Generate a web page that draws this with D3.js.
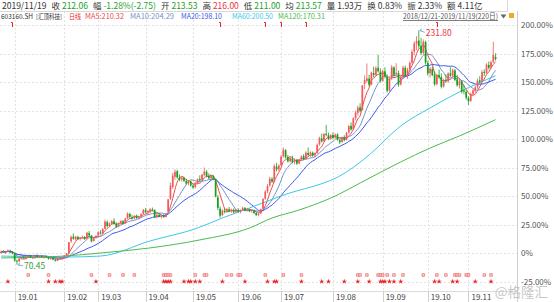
<!DOCTYPE html>
<html>
<head>
<meta charset="utf-8">
<script src="https://cdn.jsdelivr.net/npm/d3@7"></script>
<style>
body{margin:0;background:#fff;}
svg{display:block;font-family:"Noto Sans CJK SC","Noto Sans",sans-serif;}
</style>
</head>
<body>
<svg id="chart" width="554" height="302"></svg>
<script>
// daily candles 2018/12/21 - 2019/11/19, [open, high, low, close]
var candles = [
[78.5,80.2,78.0,79.6],[79.4,80.5,78.6,78.9],[78.6,80.0,77.8,79.5],[79.6,81.0,79.0,80.3],[80.2,80.8,78.5,78.8],[78.9,79.8,77.6,78.2],
[78.0,78.3,72.5,73.4],[73.2,74.0,70.45,72.6],[72.8,75.2,72.0,74.6],[74.8,76.0,74.0,75.4],[75.6,76.5,74.6,75.0],[75.0,76.2,74.2,75.9],
[76.0,77.0,75.2,76.4],[76.5,77.2,75.0,75.3],[75.2,76.0,74.3,75.6],[75.8,77.4,75.4,76.9],[76.8,77.5,75.6,75.9],[75.9,76.8,75.0,76.3],
[76.2,77.0,75.3,75.6],[75.5,76.4,74.6,75.9],[76.0,76.8,75.1,75.4],[75.3,75.8,74.0,74.4],[74.5,75.6,73.8,75.1],[75.0,75.5,73.6,73.9],
[73.8,74.6,72.6,73.1],[73.2,74.8,72.9,74.3],[74.4,75.4,73.8,74.9],[74.8,75.8,74.2,75.5],
[75.6,77.2,75.2,76.8],[76.9,78.5,76.4,78.2],[78.4,86.0,78.0,86.0],[86.5,90.5,85.6,89.6],[89.8,92.0,87.6,88.2],[88.0,90.2,87.2,89.8],
[89.6,90.4,87.5,88.0],[88.2,89.6,87.0,88.9],[89.0,90.6,88.2,89.5],[89.5,90.2,87.6,88.0],[88.4,93.0,88.0,92.4],[92.2,93.6,90.0,90.6],
[90.4,91.0,85.8,86.5],[86.8,89.5,86.2,88.9],[89.0,90.8,88.2,90.2],
[90.5,93.5,90.0,92.8],[92.6,94.2,91.2,91.8],[92.0,95.6,91.6,95.0],[95.2,101.5,95.0,100.2],[99.8,101.0,96.2,97.0],[97.2,99.6,96.4,98.8],
[98.6,101.2,97.8,100.5],[100.4,102.4,98.0,98.6],[98.5,99.8,95.8,96.6],[96.8,99.5,96.2,99.0],[99.2,101.0,98.4,100.6],[100.4,101.2,98.2,98.9],
[99.0,102.8,98.6,102.2],[102.4,106.5,101.8,105.6],[105.4,106.2,102.6,103.4],[103.2,104.8,101.5,102.2],[102.4,104.6,101.8,104.0],
[104.2,105.0,102.0,102.6],[102.8,104.2,101.6,103.8],[104.0,106.0,103.2,105.2],[105.4,108.8,105.0,108.2],
[108.0,109.6,105.8,106.6],[106.8,108.0,104.6,107.4],[107.2,109.4,106.0,108.6],[108.4,109.8,107.2,108.0],[108.0,108.6,102.6,103.2],
[103.4,105.6,102.4,104.8],[104.8,106.0,103.0,103.6],[103.6,104.8,102.2,104.2],[104.0,105.2,102.8,103.2],[103.4,106.0,103.0,105.0],
[107.0,115.5,106.8,115.5],[116.0,127.0,115.0,124.8],[124.0,133.6,122.6,131.8],[131.0,136.2,128.8,134.4],[134.8,135.8,129.6,130.6],
[130.4,132.6,128.0,129.0],[129.2,131.4,127.6,130.4],[130.2,131.0,127.4,128.2],[128.0,129.6,125.6,126.4],[126.6,128.8,125.0,127.8],
[127.6,128.4,124.2,125.0],
[124.8,126.0,122.8,123.6],[123.8,127.4,123.0,126.8],[126.6,129.8,125.8,129.2],[129.4,132.0,127.6,128.4],[128.6,133.0,128.2,132.4],
[132.2,137.4,131.2,134.6],[134.4,135.6,130.6,131.4],[131.6,133.4,129.4,130.0],[130.2,132.6,129.0,131.8],[131.6,132.2,128.6,129.6],
[129.4,129.8,116.8,117.4],[116.8,118.4,108.0,109.6],[109.0,110.6,102.8,104.2],[104.6,108.6,103.8,107.8],[107.6,109.6,105.8,106.6],
[106.8,109.4,106.0,108.8],[108.6,110.2,106.8,107.4],[107.4,109.0,106.2,108.4],[108.2,109.2,105.8,106.6],[106.8,108.8,106.0,108.2],
[108.0,109.4,106.4,107.0],[107.2,108.6,105.8,108.0],[108.2,110.4,107.4,109.6],[109.4,110.2,107.2,107.8],[107.8,109.6,107.0,108.8],
[108.6,109.2,106.6,107.2],[107.4,108.6,106.2,108.0],[107.8,108.4,105.4,106.0],[106.0,106.8,104.0,104.6],[104.8,106.2,103.8,105.6],
[105.8,109.0,105.2,108.6],[109.0,116.4,108.6,115.6],[116.0,121.8,115.2,120.8],[121.0,126.0,119.6,124.6],[125.0,131.0,124.2,129.6],
[129.4,130.8,126.8,127.6],[127.6,139.8,127.0,138.4],[138.0,140.6,134.6,136.0],[136.2,139.4,135.0,138.8],
[139.0,146.0,138.2,144.8],[145.2,151.2,144.0,149.6],[149.2,150.0,143.6,144.4],[144.6,146.0,140.8,141.6],[141.8,144.6,140.6,143.8],
[143.6,145.4,140.2,141.0],[141.2,143.6,139.4,142.8],[142.6,143.4,139.2,140.0],[140.2,143.2,139.6,142.6],[142.8,145.8,142.0,145.0],
[145.2,146.6,142.4,143.2],[143.4,148.6,142.8,147.6],[147.4,151.2,145.2,146.0],[146.2,148.6,144.6,147.8],[147.6,148.4,144.8,145.6],
[145.8,147.8,144.4,147.2],[147.4,153.8,146.8,153.0],[153.4,158.6,152.4,157.6],[157.4,160.6,154.6,155.4],[155.6,161.2,155.0,160.4],
[160.6,166.8,158.8,159.8],[159.6,161.4,156.2,157.0],[157.2,160.4,156.4,159.6],
[159.8,161.6,157.0,157.8],[158.0,160.8,157.2,160.0],[160.2,161.0,155.8,156.4],[156.2,157.4,153.6,154.8],[155.0,158.6,154.4,158.0],
[158.2,159.6,155.4,156.2],[156.4,162.0,156.0,161.2],[161.4,166.8,160.6,165.8],[166.0,168.4,162.8,163.6],[163.8,172.0,163.2,171.2],
[171.4,176.6,169.8,175.2],[175.0,180.0,173.2,178.6],[178.8,181.6,175.4,176.4],[177.0,194.0,176.6,194.0],[195.0,200.8,191.4,197.6],
[197.0,209.0,195.6,198.8],[198.6,201.2,193.2,194.4],[194.6,203.4,194.0,202.6],[202.4,206.8,199.6,201.0],[201.2,207.2,200.4,205.8],
[206.0,215.0,202.8,203.6],[203.4,205.6,196.0,197.0],
[197.2,204.6,196.4,203.8],[203.6,206.4,198.8,200.0],[199.8,201.6,189.0,190.2],[190.4,199.6,189.6,198.4],[198.6,208.0,197.6,206.4],
[206.2,207.2,199.8,201.2],[201.6,209.2,200.8,202.6],[202.4,204.0,193.0,194.4],[194.6,200.8,193.8,199.6],[199.4,207.4,198.8,206.2],
[206.0,207.6,199.6,200.8],[201.0,206.0,198.4,204.6],[204.8,210.6,203.2,209.4],[209.6,218.6,208.4,217.0],[217.2,224.2,214.6,222.8],
[222.6,227.8,218.2,224.6],[224.8,231.8,219.4,221.0],[221.2,226.6,214.8,216.2],[216.4,225.6,215.0,224.0],[223.8,224.8,208.2,209.6],
[209.4,211.0,200.6,202.2],[202.4,206.6,199.4,205.4],[205.2,207.0,200.2,201.0],[201.2,203.4,193.6,194.6],[194.8,201.8,194.0,200.8],
[201.0,204.8,198.4,199.4],[199.6,202.2,191.8,193.0],[193.2,198.6,192.4,197.6],[197.4,201.6,195.6,196.6],[196.8,203.0,195.8,202.0],
[202.2,206.4,199.8,200.6],[200.8,205.6,199.6,204.4],[204.2,205.2,196.8,197.8],[198.0,201.2,193.0,194.0],[194.2,198.2,191.8,196.8],
[196.6,197.4,188.4,189.6],[190.4,194.2,187.8,189.6],[189.4,190.6,184.0,185.4],
[185.2,186.4,180.4,183.0],[183.2,189.0,182.6,188.0],[188.2,191.6,186.4,190.4],[190.2,194.0,188.4,192.6],[192.8,198.6,191.6,197.2],
[197.4,200.2,195.0,196.4],[196.6,204.4,196.0,203.0],[203.2,205.0,200.4,202.4],[202.6,209.2,201.8,208.2],[208.0,210.4,204.8,206.0],
[206.2,211.0,205.4,210.0],[210.2,224.0,209.4,214.81],[213.53,216.00,211.00,212.06]
];

var basePrice = 78.5;

// long averages: [day index, value]
var ma60Pts = [[0,76.4],[28,75.7],[44,76.4],[66,86.8],[87,95.7],[98,102.6],[110,109.5],[124,117.8],
  [153,134.3],[163,146.0],[177,166.0],[190,178.4],[203,189.4],[219,200.5]];
var ma120Pts = [[0,75.1],[28,76.4],[44,78.5],[66,82.0],[88,87.5],[110,95.7],[120,102.6],[132,108.1],
  [149,118.5],[159,126.7],[177,141.2],[190,150.8],[203,159.1],[219,170.31]];

var monthLabels = ["19.01","19.02","19.03","19.04","19.05","19.06","19.07","19.08","19.09","19.10","19.11"];
var monthStart = [6,28,43,64,85,105,124,147,169,189,207];
var yTicks = [-25,0,25,50,75,100,125,150,175,200];

var flagDays = [12,21,40,48,54,59,72,73,74,75,86,90,91,100,102,105,106,117,125,133,158,159,162,167,168,169,171,174,178,187,193,197,201,202,203,206,207,214,217];
var starDays = [3,21,24,26,27,42,72,73,74,75,81,83,84,86,88,98,108,118,121,122,133,142,145,152,158,163,168,169,170,172,174,177,192,194,200,202,210,217];
var noteDays = [5,97,117,124,135,193];

var headerItems = [
  {label:"收", value:"212.06", color:"#1e9e2e"},
  {label:"幅", value:"-1.28%(-2.75)", color:"#1e9e2e"},
  {label:"开", value:"213.53", color:"#1e9e2e"},
  {label:"高", value:"216.00", color:"#e8363a"},
  {label:"低", value:"211.00", color:"#1e9e2e"},
  {label:"均", value:"213.57", color:"#1e9e2e"},
  {label:"量", value:"1.93万", color:"#333"},
  {label:"换", value:"0.83%", color:"#333"},
  {label:"振", value:"2.33%", color:"#333"},
  {label:"额", value:"4.11亿", color:"#333"}
];
// second header row: text, colour, left x, width, font size
var legendItems = [
  ["603160.SH", "#333", 1, 32, 7],
  ["[汇顶科技]", "#333", 36, 26, 6.4],
  ["日线", "#e8262a", 69, 12, 7],
  ["MA5:210.32", "#ee4b4b", 85, 39, 7.2],
  ["MA10:204.29", "#7592c8", 130, 44, 7.2],
  ["MA20:198.10", "#3b57ee", 181, 41, 7.2],
  ["MA60:200.50", "#3cc8e8", 232, 41, 7.2],
  ["MA120:170.31", "#4cbc4c", 278, 47, 7.2]
];
var maColors = ["#ee4b4b","#7592c8","#3b57ee","#3cc8e8","#4cbc4c"];

var svg = d3.select("#chart");
var plotW = 517;

var x = d3.scaleLinear().domain([-0.5, 228.5]).range([0, plotW]);
var y = d3.scaleLinear().domain([-25, 200]).range([281.5, 25]);
function pct(p){ return (p / basePrice - 1) * 100; }

// grid
svg.append("g").selectAll("line")
  .data(yTicks).enter().append("line")
  .attr("x1", 0).attr("x2", plotW)
  .attr("y1", function(d){ return Math.round(y(d)) + 0.5; })
  .attr("y2", function(d){ return Math.round(y(d)) + 0.5; })
  .attr("stroke", "#e2e2e2").attr("stroke-dasharray", "2,2");

svg.append("g").selectAll("line")
  .data(monthStart).enter().append("line")
  .attr("x1", function(d){ return Math.round(x(d)) + 0.5; })
  .attr("x2", function(d){ return Math.round(x(d)) + 0.5; })
  .attr("y1", 12).attr("y2", 291)
  .attr("stroke", "#e2e2e2").attr("stroke-dasharray", "2,2");

// frame lines
svg.append("line").attr("x1", 0).attr("x2", 507).attr("y1", 11.5).attr("y2", 11.5).attr("stroke", "#d8d8d8");
svg.append("line").attr("x1", 507.5).attr("x2", 507.5).attr("y1", 0).attr("y2", 11.5).attr("stroke", "#d8d8d8");
svg.append("line").attr("x1", plotW + 0.5).attr("x2", plotW + 0.5).attr("y1", 11).attr("y2", 302).attr("stroke", "#cfcfcf");
svg.append("line").attr("x1", 0).attr("x2", plotW).attr("y1", 291.5).attr("y2", 291.5).attr("stroke", "#dcdcdc");

// right axis
svg.append("g").selectAll("text")
  .data(yTicks).enter().append("text")
  .attr("x", plotW + 4)
  .attr("y", function(d){ return y(d) + 3; })
  .attr("font-size", "8px")
  .attr("fill", "#555")
  .text(function(d){ return d === 0 ? "0%" : d.toFixed(2) + "%"; });

// bottom axis
var xAxis = svg.append("g");
xAxis.selectAll("line")
  .data(monthStart).enter().append("line")
  .attr("x1", function(d){ return Math.round(x(d)) + 0.5; })
  .attr("x2", function(d){ return Math.round(x(d)) + 0.5; })
  .attr("y1", 291).attr("y2", 302)
  .attr("stroke", "#cfcfcf");
xAxis.selectAll("text")
  .data(monthStart).enter().append("text")
  .attr("x", function(d){ return x(d) + 3; })
  .attr("y", 299.5)
  .attr("font-size", "8px")
  .attr("fill", "#444")
  .text(function(d, i){ return monthLabels[i]; });

// moving averages: short ones from the closes, long ones as read
function movingAvg(n){
  return candles.map(function(d, i){
    var s = candles.slice(Math.max(0, i - n + 1), i + 1);
    return [i, d3.mean(s, function(c){ return c[3]; })];
  });
}
var maSeries = [movingAvg(5), movingAvg(10), movingAvg(20), ma60Pts, ma120Pts];

var line = d3.line()
  .x(function(d){ return x(d[0]); })
  .y(function(d){ return y(pct(d[1])); })
  .curve(d3.curveMonotoneX);

svg.append("g").selectAll("path")
  .data(maSeries).enter().append("path")
  .attr("d", line)
  .attr("fill", "none")
  .attr("stroke", function(d, i){ return maColors[i]; })
  .attr("stroke-width", 1);

// candles
var up = "#f25a5a", down = "#16a01c";
var cg = svg.append("g");
cg.selectAll("line")
  .data(candles).enter().append("line")
  .attr("x1", function(d, i){ return x(i); })
  .attr("x2", function(d, i){ return x(i); })
  .attr("y1", function(d){ return y(pct(d[1])); })
  .attr("y2", function(d){ return y(pct(d[2])); })
  .attr("stroke", function(d){ return d[3] >= d[0] ? up : down; })
  .attr("stroke-width", 0.8);
cg.selectAll("rect")
  .data(candles).enter().append("rect")
  .attr("x", function(d, i){ return x(i) - 0.85; })
  .attr("width", 1.7)
  .attr("y", function(d){ return y(pct(Math.max(d[0], d[3]))); })
  .attr("height", function(d){ return Math.max(0.8, Math.abs(y(pct(d[0])) - y(pct(d[3])))); })
  .attr("fill", function(d){ return d[3] >= d[0] ? up : down; });

// high / low notes
var hiIdx = d3.maxIndex(candles, function(d){ return d[1]; });
var loIdx = d3.minIndex(candles, function(d){ return d[2]; });
var hx = x(hiIdx), hy = y(pct(candles[hiIdx][1]));
var lx = x(loIdx), ly = y(pct(candles[loIdx][2]));
svg.append("path")
  .attr("d", "M" + (hx + 1) + "," + hy + "L" + (hx + 6) + "," + (hy + 2) + "M" + (hx + 1) + "," + hy + "l2,-1.5M" + (hx + 1) + "," + hy + "l2.5,1")
  .attr("stroke", "#86b6dc").attr("fill", "none");
svg.append("text").attr("x", hx + 7).attr("y", hy + 6)
  .attr("font-size", "8.5px").attr("fill", "#e8363a")
  .text(candles[hiIdx][1].toFixed(2));
svg.append("path")
  .attr("d", "M" + (lx + 1) + "," + ly + "L" + (lx + 6) + "," + (ly + 1) + "M" + (lx + 1) + "," + ly + "l2,-1.5M" + (lx + 1) + "," + ly + "l2.5,1.2")
  .attr("stroke", "#86b6dc").attr("fill", "none");
svg.append("text").attr("x", lx + 7).attr("y", ly + 4)
  .attr("font-size", "8.5px").attr("fill", "#3a9e3a")
  .text(candles[loIdx][2].toFixed(2));

// event markers
svg.append("g").selectAll("path")
  .data(flagDays).enter().append("path")
  .attr("transform", function(d){ return "translate(" + x(d) + ",275)"; })
  .attr("d", d3.symbol().type(d3.symbolSquare).size(7))
  .attr("fill", "#fbd0d0").attr("stroke", "#ee5555").attr("stroke-width", 0.6);
svg.append("g").selectAll("path")
  .data(starDays).enter().append("path")
  .attr("transform", function(d){ return "translate(" + x(d) + ",281.5)"; })
  .attr("d", d3.symbol().type(d3.symbolStar).size(9))
  .attr("fill", "#e8262a");
svg.append("g").selectAll("path")
  .data(noteDays).enter().append("path")
  .attr("d", function(d){ var px = Math.round(x(d)) + 0.5; return "M" + (px - 1.5) + ",22.5H" + px + "V27"; })
  .attr("stroke", "#e8262a").attr("fill", "none");

// header row 1
var h1 = svg.append("text").attr("x", 2).attr("y", 8.5).attr("font-size", "8.5px");
h1.append("tspan").attr("fill", "#333").text("2019/11/19");
headerItems.forEach(function(d){
  h1.append("tspan").attr("dx", 5).attr("fill", "#333").text(d.label);
  h1.append("tspan").attr("dx", 2).attr("fill", d.color).text(d.value);
});

// header row 2
svg.append("g").selectAll("text")
  .data(legendItems).enter().append("text")
  .attr("x", function(d){ return d[2]; })
  .attr("y", 19)
  .attr("font-size", function(d){ return d[4] + "px"; })
  .attr("textLength", function(d){ return d[3]; })
  .attr("lengthAdjust", "spacingAndGlyphs")
  .attr("fill", function(d){ return d[1]; })
  .text(function(d){ return d[0]; });

svg.append("text").attr("x", 403).attr("y", 19)
  .attr("font-size", "7.5px").attr("fill", "#555")
  .attr("textLength", 95).attr("lengthAdjust", "spacingAndGlyphs")
  .attr("text-decoration", "underline")
  .text("2018/12/21-2019/11/19(220日)");
svg.append("path").attr("d", "M500.5,14.5h6l-3,4z").attr("fill", "#666");
svg.append("rect").attr("x", 509).attr("y", 13).attr("width", 5).attr("height", 5)
  .attr("fill", "#f5a623");

// watermark
svg.append("text").attr("x", 548).attr("y", 297).attr("text-anchor", "end")
  .attr("font-size", "13.5px").attr("fill", "#bdbdbd").attr("fill-opacity", 0.85)
  .text("@格隆汇");
</script>
</body>
</html>
